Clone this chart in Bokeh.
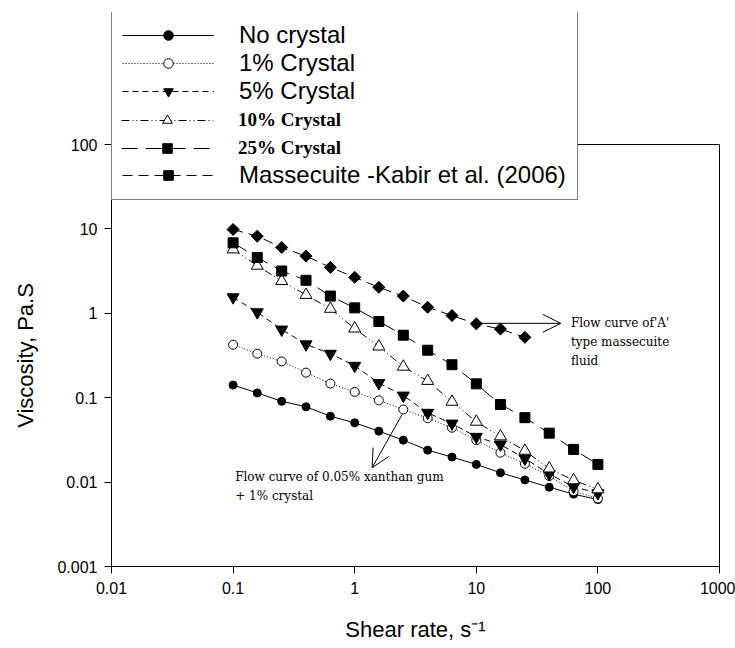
import numpy as np
from bokeh.plotting import figure
from bokeh.models import (Legend, LegendItem, Label, Arrow, OpenHead,
                          FixedTicker, Range1d, LogAxis, Span)
from bokeh.embed import file_html
from bokeh.resources import INLINE

# ---------------- data ----------------
shear_rate = [0.1, 0.158, 0.251, 0.398, 0.631, 1.0, 1.58, 2.51, 3.98, 6.31,
              10.0, 15.8, 25.1, 39.8, 63.1, 100.0]
no_crystal = [0.141, 0.114, 0.0906, 0.078, 0.0603, 0.0504, 0.0401, 0.0314,
              0.0239, 0.0198, 0.0162, 0.0129, 0.0106, 0.0087, 0.0072, 0.0062]
crystal_1 = [0.424, 0.332, 0.269, 0.198, 0.147, 0.117, 0.093, 0.0724,
             0.0571, 0.0441, 0.0314, 0.0223, 0.0165, 0.0118, 0.0078, 0.0064]
crystal_5 = [1.55, 1.03, 0.642, 0.429, 0.332, 0.239, 0.149, 0.106,
             0.0662, 0.0494, 0.0344, 0.0279, 0.019, 0.0125, 0.0088, 0.0074]
crystal_10 = [5.71, 3.66, 2.41, 1.65, 1.13, 0.66, 0.404, 0.233,
              0.158, 0.0895, 0.0519, 0.0348, 0.0235, 0.0145, 0.0105, 0.0082]
crystal_25 = [6.84, 4.59, 3.17, 2.46, 1.60, 1.16, 0.80, 0.55,
              0.365, 0.246, 0.146, 0.083, 0.058, 0.038, 0.0244, 0.0162]
massecuite_rate = [0.1, 0.158, 0.251, 0.398, 0.631, 1.0, 1.58, 2.51, 3.98,
                   6.31, 10.0, 15.8, 25.1]
massecuite = [9.84, 8.2, 6.03, 4.76, 3.50, 2.67, 2.03, 1.60, 1.18, 0.94,
              0.75, 0.65, 0.52]

x_ticks = [0.01, 0.1, 1, 10, 100, 1000]
x_tick_labels = ["0.01", "0.1", "1", "10", "100", "1000"]
y_ticks = [0.001, 0.01, 0.1, 1, 10, 100]
y_tick_labels = ["0.001", "0.01", "0.1", "1", "10", "100"]

series_names = ["No crystal", "1% Crystal", "5% Crystal", "10% Crystal",
                "25% Crystal", "Massecuite -Kabir et al. (2006)"]

# annotation anchors (data coordinates)
arrow_massecuite = dict(x_start=11.0, y_start=0.76, x_end=49.5, y_end=0.76)
arrow_xanthan = dict(x_start=2.45, y_start=0.063, x_end=1.39, y_end=0.0148)
note_massecuite_xy = (60.0, 0.77)
note_xanthan_xy = (0.104, 0.0114)

# ---------------- layout ----------------
# plot frame reaches up to the top of the legend box; the axes stop at 100
FRAME_LEFT, FRAME_RIGHT = 111, 719
FRAME_TOP, AXIS_TOP, FRAME_BOTTOM = 12, 144, 566
W, H = 735, 648
y_lo, y_hi = 0.001, 100
decades = np.log10(y_hi) - np.log10(y_lo)
y_end = 10 ** (np.log10(y_lo) + decades * (FRAME_BOTTOM - FRAME_TOP)
               / (FRAME_BOTTOM - AXIS_TOP))

p = figure(width=W, height=H, x_axis_type="log", y_axis_type="log",
           x_range=Range1d(0.01, 1000), y_range=Range1d(y_lo, y_end),
           output_backend="svg", toolbar_location=None,
           min_border_left=FRAME_LEFT, min_border_right=W - FRAME_RIGHT,
           min_border_top=FRAME_TOP, min_border_bottom=H - FRAME_BOTTOM)
p.xgrid.visible = False
p.ygrid.visible = False
p.outline_line_color = None
p.background_fill_color = "white"
p.border_fill_color = "white"

for ax, ticks, labels in ((p.xaxis[0], x_ticks, x_tick_labels),
                          (p.yaxis[0], y_ticks, y_tick_labels)):
    ax.ticker = FixedTicker(ticks=ticks)
    ax.major_label_overrides = {t: l for t, l in zip(ticks, labels)}
    ax.major_tick_out = 7
    ax.major_tick_in = 0
    ax.minor_tick_out = 0
    ax.minor_tick_in = 0
    ax.axis_line_color = "black"
    ax.major_tick_line_color = "black"
    ax.major_label_text_font = "Liberation Sans"
    ax.major_label_text_font_size = "16px"
    ax.major_label_text_color = "black"
    ax.axis_label_text_font = "Liberation Sans"
    ax.axis_label_text_font_size = "22px"
    ax.axis_label_text_font_style = "normal"
    ax.axis_label_text_color = "black"

p.yaxis[0].bounds = (y_lo, y_hi)
p.xaxis.axis_label = "Shear rate, s\u207b\u00b9"
p.xaxis.major_label_standoff = 8
p.xaxis.axis_label_standoff = 20
# the title is centred on the (taller) frame: em spaces push it down to the
# middle of the 0.001-100 axis
p.yaxis.axis_label = "Viscosity, Pa.S" + "\u2003" * 6
p.yaxis.major_label_standoff = 7
p.yaxis.axis_label_standoff = 16

# right edge of the box (axis line only) and top edge at 100
right_edge = LogAxis(bounds=(y_lo, y_hi), ticker=FixedTicker(ticks=[]),
                     major_tick_out=0, major_tick_in=0, minor_tick_out=0,
                     minor_tick_in=0, major_label_text_font_size="0px",
                     axis_line_color="black")
p.add_layout(right_edge, "right")
p.add_layout(Span(location=y_hi, dimension="width", line_color="black",
                  line_width=1))

# ---------------- series ----------------
def series(xs, ys, dash, marker, size, fill, angle=0.0):
    ln = p.line(xs, ys, line_color="black", line_width=1, line_dash=dash)
    sc = p.scatter(xs, ys, marker=marker, size=size, fill_color=fill,
                   line_color="black", line_width=1, angle=angle)
    return [ln, sc]

r_none = series(shear_rate, no_crystal, "solid", "circle", 8, "black")
r_1 = series(shear_rate, crystal_1, "1 2", "circle", 9, "white")
r_5 = series(shear_rate, crystal_5, "6 4", "inverted_triangle", 12, "black")
r_10 = series(shear_rate, crystal_10, "8 3 1 3 1 3", "triangle", 12, "white")
r_25 = series(shear_rate, crystal_25, "16 8", "square", 10, "black")
r_m = series(massecuite_rate, massecuite, "10 6", "square", 8.5, "black",
             angle=np.pi / 4)

# ---------------- legend (outer box) ----------------
common = dict(orientation="vertical", glyph_width=92, glyph_height=24,
              label_height=28, spacing=0, label_standoff=25, margin=0,
              label_width=328)
legend_bottom = FRAME_BOTTOM - 200
legA = Legend(items=[LegendItem(label=series_names[0], renderers=r_none),
                     LegendItem(label=series_names[1], renderers=r_1),
                     LegendItem(label=series_names[2], renderers=r_5),
                     LegendItem(label=" ", renderers=r_10),
                     LegendItem(label=" ", renderers=r_25),
                     LegendItem(label=series_names[5], renderers=r_m)],
              location=(0, legend_bottom), padding=10,
              label_text_font="Liberation Sans", label_text_font_size="24px",
              label_text_color="black", border_line_color="black",
              border_line_width=1, background_fill_color="white",
              background_fill_alpha=1.0, **common)
p.add_layout(legA)

# the two rows set in a bold serif face
legB = Legend(items=[LegendItem(label=series_names[3], renderers=r_10),
                     LegendItem(label=series_names[4], renderers=r_25)],
              location=(10, legend_bottom + 10 + 28), padding=0,
              label_text_font="Liberation Serif", label_text_font_size="19px",
              label_text_font_style="bold", label_text_color="black",
              border_line_color=None, background_fill_color="white",
              background_fill_alpha=1.0, **common)
p.add_layout(legB)

# ---------------- annotations ----------------
for a in (arrow_massecuite, arrow_xanthan):
    p.add_layout(Arrow(end=OpenHead(size=18, line_width=1, line_color="black"),
                       line_color="black", line_width=1, **a))

note_font = dict(text_font="DejaVu Serif", text_font_size="12px",
                 text_color="black", text_baseline="middle", text_align="left")
for i, t in enumerate(["Flow curve of'A'", "type massecuite", "fluid"]):
    p.add_layout(Label(x=note_massecuite_xy[0], y=note_massecuite_xy[1],
                       y_offset=-19 * i, text=t, **note_font))
for i, t in enumerate(["Flow curve of 0.05% xanthan gum", "+ 1% crystal"]):
    p.add_layout(Label(x=note_xanthan_xy[0], y=note_xanthan_xy[1],
                       y_offset=-19 * i, text=t, **note_font))

open("out.html", "w").write(file_html(p, INLINE))
